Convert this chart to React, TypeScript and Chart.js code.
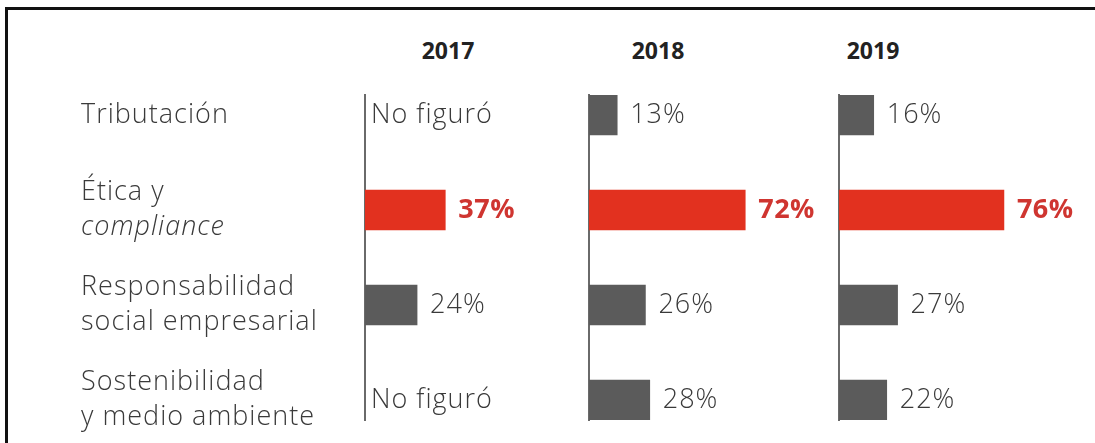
import React, { useEffect, useRef } from "react";
import { Chart, registerables } from "chart.js";

Chart.register(...registerables);

// ---------- data ----------
const categoryLines: string[][] = [
  ["Tributación"],
  ["Ética y", "compliance"],
  ["Responsabilidad", "social empresarial"],
  ["Sostenibilidad", "y medio ambiente"],
];
const italicLines: string[] = ["compliance"];
const years: string[] = ["2017", "2018", "2019"];
const values2017: (number | null)[] = [null, 37, 24, null];
const values2018: (number | null)[] = [13, 72, 26, 28];
const values2019: (number | null)[] = [16, 76, 27, 22];
const highlightIndex = 1;
const missingLabel = "No figuró";

// ---------- styles ----------
const RED_BAR = "#e2311f";
const RED_TEXT = "#cf3530";
const GRAY_BAR = "#5b5b5b";
const TEXT = "#3a3a3a";
const FONT = "'Open Sans', 'DejaVu Sans', sans-serif";

type PanelProps = {
  values: (number | null)[];
  showCategories: boolean;
  left: number;
  width: number;
  padLeft: number;
};

const AREA_W = 217;

function setSpacing(ctx: any, px: number) {
  try {
    ctx.letterSpacing = `${px}px`;
  } catch (e) {
    /* ignore */
  }
}

function Panel({ values, showCategories, left, width, padLeft }: PanelProps) {
  const ref = useRef<HTMLCanvasElement | null>(null);

  useEffect(() => {
    if (!ref.current) return;

    const valueLabels = {
      id: "valueLabels",
      afterDatasetsDraw(chart: any) {
        const ctx = chart.ctx;
        const xs = chart.scales.x;
        const ys = chart.scales.y;
        ctx.save();
        ctx.textBaseline = "middle";
        ctx.textAlign = "left";
        values.forEach((v, i) => {
          const y = ys.getPixelForValue(i);
          if (v === null) {
            ctx.font = `300 27px ${FONT}`;
            setSpacing(ctx, 1);
            ctx.fillStyle = TEXT;
            ctx.fillText(missingLabel, chart.chartArea.left + 6, y);
          } else {
            const x = xs.getPixelForValue(v) + 13;
            if (i === highlightIndex) {
              ctx.font = `700 27px ${FONT}`;
              setSpacing(ctx, 0.5);
              ctx.fillStyle = RED_TEXT;
            } else {
              ctx.font = `300 27px ${FONT}`;
              setSpacing(ctx, 1);
              ctx.fillStyle = TEXT;
            }
            ctx.fillText(`${v}%`, x, y);
          }
        });
        ctx.restore();
      },
    };

    const categoryLabels = {
      id: "categoryLabels",
      afterDraw(chart: any) {
        if (!showCategories) return;
        const ctx = chart.ctx;
        const ys = chart.scales.y;
        const lh = 35;
        ctx.save();
        ctx.textBaseline = "middle";
        ctx.textAlign = "left";
        ctx.fillStyle = TEXT;
        setSpacing(ctx, 1);
        categoryLines.forEach((lines, i) => {
          const cy = ys.getPixelForValue(i);
          lines.forEach((line, j) => {
            const italic = italicLines.includes(line);
            ctx.font = `${italic ? "italic " : ""}300 27px ${FONT}`;
            ctx.fillText(line, 81, cy - ((lines.length - 1) * lh) / 2 + j * lh);
          });
        });
        ctx.restore();
      },
    };

    const points = values
      .map((v, i) => ({ x: v, y: i }))
      .filter((p) => p.x !== null);
    const colors = values
      .map((v, i) => ({ v, c: i === highlightIndex ? RED_BAR : GRAY_BAR }))
      .filter((p) => p.v !== null)
      .map((p) => p.c);

    const chart = new Chart(ref.current, {
      type: "bar",
      data: {
        datasets: [
          {
            data: points as any,
            backgroundColor: colors,
            borderWidth: 0,
            barThickness: 40,
          },
        ],
      },
      options: {
        indexAxis: "y",
        animation: false,
        responsive: false,
        maintainAspectRatio: false,
        layout: {
          padding: {
            left: padLeft,
            right: width - padLeft - AREA_W,
            top: 95,
            bottom: 23,
          },
        },
        scales: {
          x: { type: "linear", min: 0, max: 100, display: false },
          y: {
            type: "linear",
            min: -0.21,
            max: 3.21,
            bounds: "data",
            offset: false,
            reverse: true,
            display: true,
            grid: { display: false, drawTicks: false, tickLength: 0, offset: false },
            ticks: { display: false },
            border: { display: true, color: "#6a6a6a", width: 2 },
          },
        },
        plugins: {
          legend: { display: false },
          tooltip: { enabled: false },
          title: { display: false },
        },
      } as any,
      plugins: [valueLabels, categoryLabels],
    });
    return () => chart.destroy();
  }, [values, showCategories, left, width, padLeft]);

  return (
    <canvas
      ref={ref}
      width={width}
      height={443}
      style={{ position: "absolute", left, top: 0 }}
    />
  );
}

const axisX = [365, 589, 839];
const headerCenters = [448, 658, 873];

export default function App() {
  const panels = [values2017, values2018, values2019];
  return (
    <div
      style={{
        position: "absolute",
        left: 0,
        top: 0,
        width: 1095,
        height: 443,
        overflow: "hidden",
        background: "#ffffff",
      }}
    >
      <div
        style={{
          position: "absolute",
          left: 5,
          top: 7,
          width: 1095,
          height: 443,
          borderTop: "3px solid #111",
          borderLeft: "3px solid #111",
          boxSizing: "border-box",
        }}
      />
      {years.map((y, k) => (
        <div
          key={y}
          style={{
            position: "absolute",
            left: headerCenters[k] - 60,
            width: 120,
            top: 35,
            lineHeight: "30px",
            textAlign: "center",
            fontFamily: FONT,
            fontWeight: 700,
            fontSize: 23,
            color: "#222",
          }}
        >
          {y}
        </div>
      ))}
      {panels.map((vals, k) => {
        const padLeft = k === 0 ? axisX[0] : 10;
        const left = axisX[k] - padLeft;
        const width = k === 0 ? 600 : k === 1 ? 260 : 1095 - left;
        return (
          <Panel
            key={k}
            values={vals}
            showCategories={k === 0}
            left={left}
            width={width}
            padLeft={padLeft}
          />
        );
      })}
    </div>
  );
}
